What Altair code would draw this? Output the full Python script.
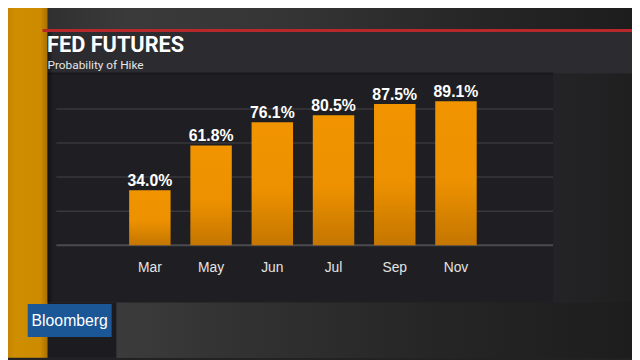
import altair as alt
import pandas as pd

# ---- data ----
months = ["Mar", "May", "Jun", "Jul", "Sep", "Nov"]
probs = [34.0, 61.8, 76.1, 80.5, 87.5, 89.1]
labels = [f"{p:.1f}%" for p in probs]

title_text = "FED FUTURES"
subtitle_text = "Probability of Hike"
brand_text = "Bloomberg"

df = pd.DataFrame({"month": months, "prob": probs, "label": labels})

Y_MAX = 105.5
grid_vals = [Y_MAX * k / 5 for k in range(1, 5)]
grid_df = pd.DataFrame({"g": grid_vals})

W, H = 503, 172.5
OX, OY = 57, 73.5  # plot origin in screenshot coordinates


def px(X):
    return X - OX


def py(Y):
    return Y - OY


one = alt.Data(values=[{}])


def rect(X1, X2, Y1, Y2, color):
    return alt.Chart(one).mark_rect(color=color).encode(
        x=alt.value(px(X1)), x2=alt.value(px(X2)),
        y=alt.value(py(Y1)), y2=alt.value(py(Y2)))


def hgrad(stops):
    return alt.Gradient(
        gradient="linear",
        stops=[alt.GradientStop(color=c, offset=o) for o, c in stops],
        x1=0, x2=1, y1=0, y2=0)


bg = rect(0, 640, 0, 360, hgrad([(0, "#2a2a2b"), (0.2, "#3a3a3b"), (0.45, "#353536"),
                                   (0.75, "#262627"), (1, "#1d1d1e")]))
bottom_dark = rect(48, 118, 304, 360, "#1c1c20")
bottom_light = rect(118, 640, 304, 360, hgrad([(0, "#3b3b3c"), (0.1, "#383839"),
                                                 (0.2, "#333334"), (0.6, "#262627"), (1, "#1d1d1e")]))
right_side = rect(560, 640, 72, 304, hgrad([(0, "#242426"), (1, "#1f1f20")]))
title_panel = rect(46, 640, 30, 72, "#2b2b30")
panel = rect(46, 560, 72, 304, "#1f1f23")
panel_edge = rect(46, 560, 71, 73, "#19191c")
orange = rect(0, 48, 0, 360, hgrad([(0, "#b97b00"), (0.3, "#cf8d00"), (0.85, "#cd8b00"), (1, "#a87000")]))
shadow = rect(48, 54, 28, 304, hgrad([(0, "rgba(0,0,0,0.45)"), (1, "rgba(0,0,0,0)")]))
red_line = rect(43, 640, 27, 30, "#b8272c")
logo_box = rect(28, 113, 305.5, 339, "#1b5696")


def label(text, X, Y, size, weight="normal", font="Roboto", color="#ffffff", align="left"):
    return alt.Chart(one).mark_text(
        text=text, font=font, fontSize=size, fontWeight=weight, color=color,
        align=align, baseline="alphabetic").encode(x=alt.value(px(X)), y=alt.value(py(Y)))


title = label(title_text, 47.5, 50.5, 22, "bold", "Roboto")
subtitle = label(subtitle_text, 48, 67.5, 12, "normal", "Roboto", "#e6e6e6")
brand = label(brand_text, 70.5, 328, 16, "normal", "Liberation Sans", "#ffffff", "center")

bar_grad = alt.Gradient(
    gradient="linear",
    stops=[alt.GradientStop(color="#f19400", offset=0),
           alt.GradientStop(color="#ed9100", offset=0.55),
           alt.GradientStop(color="#c47600", offset=1)],
    x1=0, x2=0, y1=0, y2=1)

yscale = alt.Scale(domain=[0, Y_MAX], nice=False, zero=True)
BAND_START, BAND_END = 73.7, 425.7
xscale = alt.Scale(paddingInner=0.323, paddingOuter=0, range=[BAND_START, BAND_END])
xenc = alt.X("month:N", sort=months, title=None, scale=xscale,
             axis=alt.Axis(ticks=False, domain=False,
                           labelFont="Liberation Sans", labelFontSize=14, labelColor="#e4e4e4",
                           labelPadding=16, labelAngle=0, zindex=1, grid=False))
yenc = alt.Y("prob:Q", title=None, scale=yscale, axis=None)

grid = alt.Chart(grid_df).mark_rule(color="#38383d", strokeWidth=1.5).encode(
    y=alt.Y("g:Q", scale=yscale, axis=None), x=alt.value(0), x2=alt.value(W))
baseline = alt.Chart(one).mark_rule(color="#4a4a4f", strokeWidth=2).encode(
    x=alt.value(0), x2=alt.value(W), y=alt.value(H))

bars = alt.Chart(df).mark_bar(color=bar_grad).encode(x=xenc, y=yenc)
values = alt.Chart(df).mark_text(
    font="Liberation Sans", fontSize=16, fontWeight="bold", color="#ffffff",
    baseline="alphabetic", dy=-4).encode(
    x=alt.X("month:N", sort=months), y=alt.Y("prob:Q"), text="label:N")

chart = alt.layer(
    bg, bottom_dark, bottom_light, right_side, title_panel, panel, panel_edge,
    orange, shadow, red_line, logo_box,
    title, subtitle, brand, grid, baseline, bars, values
).properties(
    width=W, height=H,
    padding={"left": 49, "top": 65.5, "right": 80, "bottom": 114},
    autosize=alt.AutoSizeParams(type="none"),
).configure(background="#222224").configure_view(stroke=None)

chart.save("out.html", embed_options={"renderer": "svg", "actions": False})
